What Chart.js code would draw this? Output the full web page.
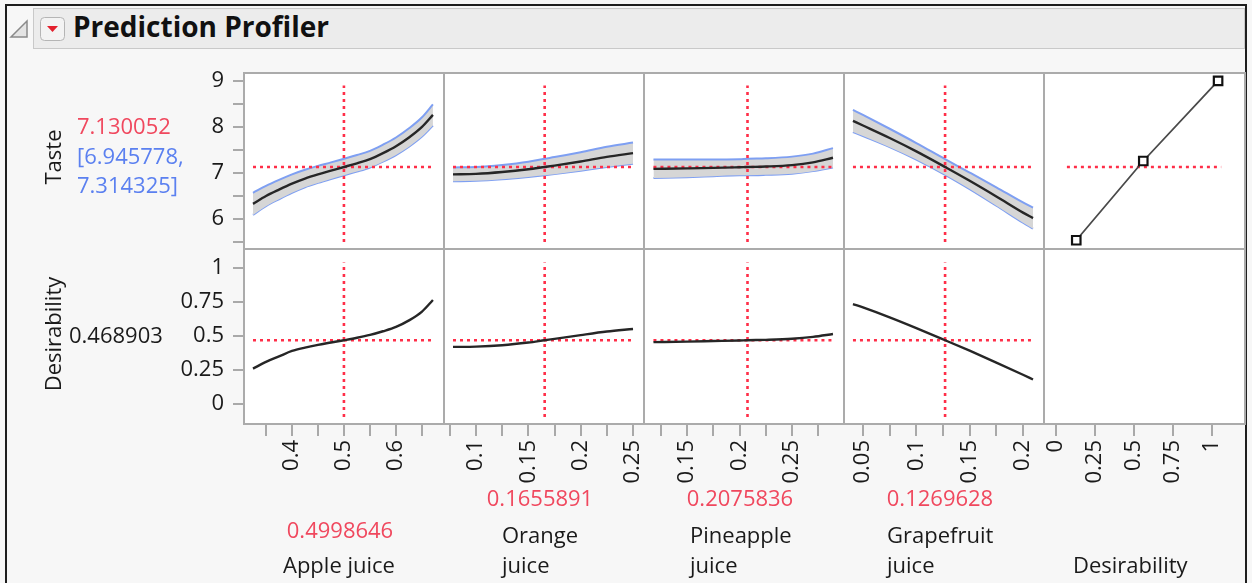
<!DOCTYPE html>
<html><head><meta charset="utf-8">
<script src="https://cdn.jsdelivr.net/npm/chart.js@4.4.0/dist/chart.umd.min.js"></script>
<style>
html,body{margin:0;padding:0;background:#f7f7f7;}
#wrap{position:relative;width:1252px;height:583px;overflow:hidden;background:#f7f7f7;font-family:"Open Sans",sans-serif;}
.abs{position:absolute;}
canvas{position:absolute;left:0;top:0;}
.t{position:absolute;font-size:22px;line-height:22px;white-space:nowrap;color:#1a1a1a;}
.red{color:#f0485e;}
.blue{color:#5b80f0;}
.ctr{text-align:center;width:200px;}
.rot{transform:translate(-50%,-50%) rotate(-90deg);}
</style></head>
<body><div id="wrap">
<div class="abs" style="left:5px;top:4px;width:1242px;height:620px;border:2px solid #1e1e1e;box-sizing:border-box"></div>
<div class="abs" style="left:33px;top:8px;width:1212px;height:41px;background:#ececec;border:1px solid #c9c9c9;box-sizing:border-box"></div>
<svg class="abs" style="left:0;top:0" width="70" height="50">
  <polygon points="27,21 27,37 11,37" fill="#e4e4e4" stroke="#8a8a8a" stroke-width="1.5"/>
  <rect x="40.5" y="17.5" width="24" height="23" rx="4" fill="#f3f3f3" stroke="#b5b5b5"/>
  <polygon points="47,26 58,26 52.5,32" fill="#e3202e"/>
</svg>
<div class="t" style="left:73px;top:12px;font-size:28px;line-height:28px;font-weight:bold;color:#111">Prediction Profiler</div>
<div class="abs" style="left:244px;top:73px;width:1000px;height:351px;background:#fff"></div>
<div id="frame" class="abs" style="left:0;top:0;width:1252px;height:583px;pointer-events:none">
  <div class="abs" style="left:243px;top:72px;width:1003px;height:353px;border:2px solid #ababab;box-sizing:border-box"></div>
  <div class="abs" style="left:443px;top:73px;width:2px;height:351px;background:#ababab"></div>
  <div class="abs" style="left:643px;top:73px;width:2px;height:351px;background:#ababab"></div>
  <div class="abs" style="left:843px;top:73px;width:2px;height:351px;background:#ababab"></div>
  <div class="abs" style="left:1043px;top:73px;width:2px;height:351px;background:#ababab"></div>
  <div class="abs" style="left:244px;top:248px;width:1000px;height:2px;background:#ababab"></div>
</div>
<div class="t red" style="left:77px;top:114px">7.130052</div>
<div class="t blue" style="left:77px;top:144px">[6.945778,</div>
<div class="t blue" style="left:77px;top:173px">7.314325]</div>
<div class="t" style="left:69px;top:323px">0.468903</div>
<div class="t rot" style="left:52px;top:157px">Taste</div>
<div class="t rot" style="left:52px;top:334px">Desirability</div>
<div class="t red ctr" style="left:240px;top:518px">0.4998646</div>
<div class="t" style="left:283px;top:553px">Apple juice</div>
<div class="t red ctr" style="left:440px;top:486px">0.1655891</div>
<div class="t" style="left:502px;top:523px">Orange</div>
<div class="t" style="left:502px;top:553px">juice</div>
<div class="t red ctr" style="left:640px;top:486px">0.2075836</div>
<div class="t" style="left:690px;top:523px">Pineapple</div>
<div class="t" style="left:690px;top:553px">juice</div>
<div class="t red ctr" style="left:840px;top:486px">0.1269628</div>
<div class="t" style="left:887px;top:523px">Grapefruit</div>
<div class="t" style="left:887px;top:553px">juice</div>
<div class="t" style="left:1073px;top:553px">Desirability</div>
</div>
<script>
// ---- Data ----
const predictedTaste = 7.130052;
const currentDesirability = 0.468903;
const currentSettings = [0.4998646, 0.1655891, 0.2075836, 0.1269628];

const tasteTicks = [5.5, 6, 6.5, 7, 7.5, 8, 8.5, 9];
const tasteTickLabels = ['', '6', '', '7', '', '8', '', '9'];
const desTicks = [0, 0.25, 0.5, 0.75, 1];
const desTickLabels = ['0', '0.25', '0.5', '0.75', '1'];
const appleTicks = [0.35, 0.4, 0.45, 0.5, 0.55, 0.6, 0.65];
const appleTickLabels = ['', '0.4', '', '0.5', '', '0.6', ''];
const orangeTicks = [0.075, 0.1, 0.125, 0.15, 0.175, 0.2, 0.225, 0.25];
const orangeTickLabels = ['', '0.1', '', '0.15', '', '0.2', '', '0.25'];
const pineTicks = [0.125, 0.15, 0.175, 0.2, 0.225, 0.25, 0.275];
const pineTickLabels = ['', '0.15', '', '0.2', '', '0.25', ''];
const grapeTicks = [0.05, 0.075, 0.1, 0.125, 0.15, 0.175, 0.2];
const grapeTickLabels = ['0.05', '', '0.1', '', '0.15', '', '0.2'];

const appleX = [0.325,0.35,0.375,0.4,0.425,0.45,0.475,0.5,0.525,0.55,0.575,0.6,0.625,0.65,0.671];
const appleTaste = [6.33,6.50,6.64,6.77,6.88,6.97,7.05,7.13,7.21,7.30,7.43,7.58,7.77,8.00,8.26];
const appleLo = [6.09,6.28,6.43,6.57,6.69,6.785,6.87,6.95,7.03,7.12,7.245,7.39,7.57,7.79,8.03];
const appleHi = [6.57,6.72,6.85,6.97,7.07,7.155,7.23,7.31,7.39,7.48,7.615,7.77,7.97,8.21,8.49];
const appleDes = [0.26,0.31,0.35,0.39,0.415,0.435,0.452,0.469,0.487,0.508,0.535,0.567,0.615,0.68,0.765];

const orangeX = [0.078,0.1,0.125,0.15,0.1656,0.175,0.2,0.225,0.25];
const orangeTaste = [6.97,6.98,7.02,7.08,7.13,7.16,7.25,7.35,7.43];
const orangeLo = [6.82,6.83,6.865,6.915,6.95,6.975,7.05,7.13,7.20];
const orangeHi = [7.12,7.13,7.175,7.245,7.31,7.345,7.45,7.57,7.66];
const orangeDes = [0.42,0.422,0.432,0.452,0.469,0.479,0.507,0.533,0.552];

const pineX = [0.118,0.15,0.175,0.2,0.2076,0.225,0.25,0.27,0.289];
const pineTaste = [7.09,7.10,7.11,7.125,7.13,7.14,7.17,7.23,7.33];
const pineLo = [6.89,6.91,6.93,6.95,6.95,6.96,6.985,7.04,7.12];
const pineHi = [7.29,7.29,7.29,7.30,7.31,7.32,7.355,7.42,7.54];
const pineDes = [0.455,0.459,0.463,0.467,0.469,0.472,0.48,0.494,0.515];

const grapeX = [0.0406,0.05,0.075,0.1,0.127,0.15,0.175,0.2,0.2094];
const grapeTaste = [8.13,8.03,7.76,7.47,7.13,6.83,6.49,6.14,6.02];
const grapeLo = [7.89,7.80,7.56,7.29,6.96,6.65,6.29,5.92,5.79];
const grapeHi = [8.37,8.26,7.96,7.65,7.30,7.01,6.69,6.36,6.25];
const grapeDes = [0.735,0.71,0.637,0.558,0.469,0.392,0.305,0.215,0.18];

const desFnX = [0.13, 0.56, 1.04];
const desFnTaste = [5.54, 7.26, 9.0];
const desFnLineX = [0.07, 1.06];

// ---- Layout ----
const W = 1252, H = 583, yAxisW = 120, xAxisH = 90;
const colL = [244, 444, 644, 844, 1044], colR = [444, 644, 844, 1044, 1244];
const rowT = [73, 249], rowB = [249, 424];
const tasteAxis = {min: 5.35, max: 9.17, ticks: tasteTicks, labels: tasteTickLabels};
const desAxis = {min: -0.147, max: 1.14, ticks: desTicks, labels: desTickLabels};
const xAxes = [
  {min: 0.3077, max: 0.6923, ticks: appleTicks, labels: appleTickLabels},
  {min: 0.0694, max: 0.2605, ticks: orangeTicks, labels: orangeTickLabels},
  {min: 0.109, max: 0.2995, ticks: pineTicks, labels: pineTickLabels},
  {min: 0.0322, max: 0.2197, ticks: grapeTicks, labels: grapeTickLabels},
  {min: -0.077, max: 1.205, ticks: desTicks, labels: desTickLabels}
];
const factors = [
  {x: appleX, t: appleTaste, lo: appleLo, hi: appleHi, d: appleDes},
  {x: orangeX, t: orangeTaste, lo: orangeLo, hi: orangeHi, d: orangeDes},
  {x: pineX, t: pineTaste, lo: pineLo, hi: pineHi, d: pineDes},
  {x: grapeX, t: grapeTaste, lo: grapeLo, hi: grapeHi, d: grapeDes}
];

const wrap = document.getElementById('wrap');
const frame = document.getElementById('frame');
const pts = (xs, ys) => xs.map((x, i) => ({x, y: ys[i]}));
const redDash = {borderColor: '#ff2e48', borderWidth: 2.6, borderDash: [3, 4], pointRadius: 0, fill: false, tension: 0};
const FONT = {family: '"Open Sans", sans-serif', size: 22};

function axis(which, cfg, show) {
  return {
    type: 'linear', min: cfg.min, max: cfg.max, display: show,
    afterBuildTicks: s => { s.ticks = cfg.ticks.map(v => ({value: v})); },
    afterFit: s => {
      if (!show) return;
      if (which === 'x') { s.height = xAxisH; s.paddingLeft = 0; s.paddingRight = 0; }
      else { s.width = yAxisW; s.paddingTop = 0; s.paddingBottom = 0; }
    },
    grid: {drawOnChartArea: false, drawTicks: true, tickLength: which === 'x' ? 12 : 11, color: '#a9a9a9', lineWidth: 2},
    border: {display: false},
    ticks: Object.assign({autoSkip: false, padding: which === 'x' ? 4 : 9, color: '#1a1a1a', font: FONT,
      callback: (v, i) => cfg.labels[i]},
      which === 'x' ? {minRotation: 90, maxRotation: 90} : {})
  };
}

function makeChart(r, c, datasets) {
  const cv = document.createElement('canvas');
  cv.width = W; cv.height = H;
  wrap.insertBefore(cv, frame);
  new Chart(cv, {
    type: 'line',
    data: {datasets},
    options: {
      responsive: false, animation: false, events: [],
      layout: {padding: {
        left: c === 0 ? colL[c] - yAxisW : colL[c],
        right: W - colR[c],
        top: rowT[r],
        bottom: r === 1 ? H - rowB[r] - xAxisH : H - rowB[r]
      }},
      plugins: {legend: {display: false}, tooltip: {enabled: false}},
      scales: {x: axis('x', xAxes[c], r === 1), y: axis('y', r === 0 ? tasteAxis : desAxis, c === 0)}
    }
  });
}

factors.forEach((f, c) => {
  const n = f.x.length - 1;
  const s = currentSettings[c];
  makeChart(0, c, [
    {data: pts(f.x, f.t), borderColor: '#262626', borderWidth: 2.4, pointRadius: 0, fill: false, cubicInterpolationMode: 'monotone'},
    Object.assign({data: [{x: f.x[0], y: predictedTaste}, {x: f.x[n], y: predictedTaste}]}, redDash),
    Object.assign({data: [{x: s, y: 5.5}, {x: s, y: 8.9}]}, redDash),
    {data: pts(f.x, f.hi), borderColor: '#7e9ff2', borderWidth: 2, pointRadius: 0, fill: '+1', backgroundColor: '#d6d6d6', cubicInterpolationMode: 'monotone'},
    {data: pts(f.x, f.lo), borderColor: '#7e9ff2', borderWidth: 2, pointRadius: 0, fill: false, cubicInterpolationMode: 'monotone'}
  ]);
  makeChart(1, c, [
    {data: pts(f.x, f.d), borderColor: '#262626', borderWidth: 2.4, pointRadius: 0, fill: false, cubicInterpolationMode: 'monotone'},
    Object.assign({data: [{x: f.x[0], y: currentDesirability}, {x: f.x[n], y: currentDesirability}]}, redDash),
    Object.assign({data: [{x: s, y: -0.095}, {x: s, y: 1.04}]}, redDash)
  ]);
});

makeChart(0, 4, [
  {data: pts(desFnX, desFnTaste), borderColor: '#4a4a4a', borderWidth: 1.8, pointStyle: 'rect', pointRadius: 6,
   pointBackgroundColor: '#fff', pointBorderColor: '#111', pointBorderWidth: 2.2, fill: false, tension: 0},
  Object.assign({data: pts(desFnLineX, [predictedTaste, predictedTaste])}, redDash)
]);
makeChart(1, 4, []);
</script>
</body></html>
